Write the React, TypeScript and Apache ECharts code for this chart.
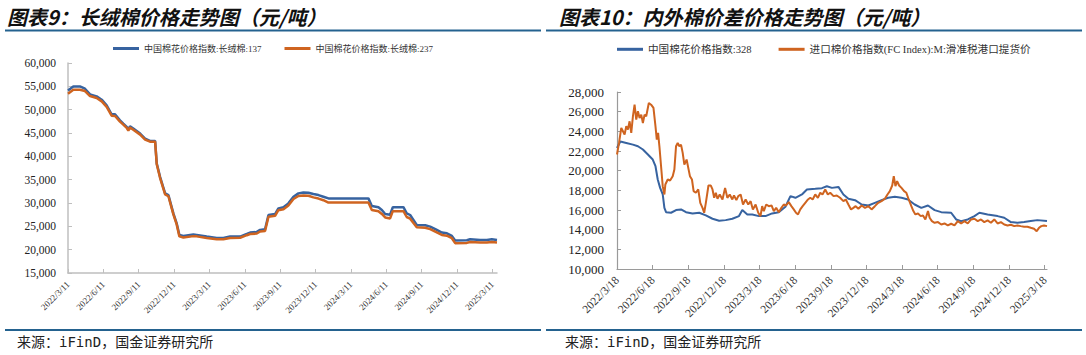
import React, { useEffect, useRef } from 'react';
import * as echarts from 'echarts';

// ---------- Left chart: 长绒棉价格 ----------
const leftTickLabels = [
  '2022/3/11', '2022/6/11', '2022/9/11', '2022/12/11', '2023/3/11', '2023/6/11', '2023/9/11',
  '2023/12/11', '2024/3/11', '2024/6/11', '2024/9/11', '2024/12/11', '2025/3/11',
];
// months since 2022/3/11
const leftMonths = [
  0, 0.45, 1.01, 1.44, 1.87, 2.43, 2.86, 3.28, 3.7, 3.99, 4.41, 4.69, 4.98, 5.12, 5.26, 5.54,
  6.12, 6.54, 6.96, 7.39, 7.53, 7.81, 8.24, 8.52, 8.94, 9.22, 9.45, 9.79, 10.64, 10.92, 11.77,
  12.62, 13.18, 13.75, 14.6, 15.17, 15.45, 16.02, 16.3, 16.72, 17.01, 17.57, 17.85, 18.28, 18.7,
  19.13, 19.55, 19.97, 20.4, 20.82, 21.25, 21.67, 22.1, 23.38, 24.79, 25.49, 25.78, 26.34, 26.63,
  26.91, 27.33, 27.56, 28.46, 28.74, 29.03, 29.31, 29.59, 30.31, 30.73, 31.29, 31.72, 32.15,
  32.57, 32.85, 33.84, 34.12, 34.97, 35.54, 35.96, 36.4,
];
const leftLong137 = [
  54130, 54980, 54980, 54490, 53280, 52850, 52140, 50930, 49000, 49000, 47720, 47010, 46300, 45730, 46440, 45940,
  44870, 43810, 43310, 43310, 38470, 35620, 32060, 31700, 27790, 25650, 23160, 22940, 23230, 23160, 22800,
  22520, 22520, 22800, 22800, 23370, 23660, 23800, 24230, 24370, 27430, 27640, 28850, 29070, 29920,
  31350, 32060, 32270, 32200, 31920, 31700, 31350, 30990, 30990, 30990, 30990, 29350, 29070, 28500,
  27650, 27500, 29100, 29100, 27800, 27430, 26360, 25290, 25220, 24940, 24230, 23660, 23510,
  22940, 21950, 22020, 22230, 22090, 22090, 22230, 22090,
];
const leftLong237 = [
  53420, 54270, 54270, 53990, 52920, 52500, 51780, 50600, 48720, 48650, 47450, 46800, 46100, 45500, 46200, 45700,
  44650, 43600, 43150, 43150, 38300, 35400, 31850, 31450, 27550, 25400, 22850, 22600, 22900, 22850, 22500,
  22250, 22250, 22500, 22550, 23100, 23350, 23450, 23900, 24000, 27050, 27250, 28450, 28650, 29450,
  30850, 31500, 31600, 31550, 31200, 30950, 30600, 30100, 30100, 30100, 30100, 28500, 28250, 27650,
  26900, 26700, 28250, 28250, 27000, 26650, 25700, 24800, 24700, 24400, 23700, 23150, 23000,
  22450, 21400, 21450, 21650, 21550, 21550, 21650, 21550,
];

// ---------- Right chart: 内外棉价差 ----------
const rightTickLabels = [
  '2022/3/18', '2022/6/18', '2022/9/18', '2022/12/18', '2023/3/18', '2023/6/18', '2023/9/18',
  '2023/12/18', '2024/3/18', '2024/6/18', '2024/9/18', '2024/12/18', '2025/3/18',
];
// months since 2022/3/18
const rightChinaMonths = [
  0, 0.28, 0.78, 1.34, 1.76, 2.18, 2.6, 3.01, 3.24, 3.43, 3.63, 3.85, 3.99, 4.13, 4.55, 4.97,
  5.39, 5.81, 6.36, 6.92, 7.48, 8.04, 8.6, 9.15, 9.71, 10.27, 10.55, 10.97, 11.39, 11.95, 12.5,
  13.06, 13.62, 14.18, 14.6, 15.02, 15.57, 15.99, 16.69, 17.25, 17.67, 18.09, 18.64, 19.06, 19.48,
  20.04, 20.6, 21.16, 21.71, 22.27, 22.83, 23.39, 23.95, 24.5, 25.06, 25.62, 26.18, 26.74, 27.3,
  28.13, 28.55, 28.97, 29.53, 30.09, 30.51, 31.2, 32.04, 32.6, 33.16, 33.71, 34.27, 34.83, 35.39, 36.2,
];
const rightChina328 = [
  22300, 22960, 22820, 22650, 22480, 22150, 21640, 21130, 20450, 19100, 18250, 17580, 16220, 15780, 15720, 15990,
  16060, 15780, 15650, 15720, 15450, 15110, 14900, 14970, 15110, 15380, 15990, 15550, 15550, 15380, 15380,
  15650, 15780, 16330, 17410, 17240, 17580, 18080, 18150, 18220, 18420, 18250, 18350, 17580, 17140,
  17000, 16560, 16460, 16730, 17000, 17240, 17340, 17240, 17070, 16560, 16220, 16460, 15990, 15780,
  15720, 15040, 14870, 15040, 15380, 15720, 15550, 15380, 15210, 14770, 14700, 14770, 14870, 14970, 14870,
];
const rightFCMonths = [
  0, 0.17, 0.36, 0.5, 0.64, 0.78, 0.92, 1.06, 1.2, 1.34, 1.48, 1.62, 1.76, 1.9, 2.04, 2.18, 2.32, 2.46,
  2.68, 2.87, 3.07, 3.24, 3.35, 3.46, 3.57, 3.71, 3.85, 3.99, 4.07, 4.27, 4.47, 4.69, 4.83, 4.97, 5.11,
  5.25, 5.39, 5.53, 5.67, 5.86, 6.03, 6.14, 6.31, 6.45, 6.64, 6.84, 7.01, 7.2, 7.34, 7.48, 7.7, 7.9,
  8.04, 8.18, 8.32, 8.46, 8.65, 8.88, 9.1, 9.29, 9.49, 9.71, 9.85, 10.05, 10.21, 10.41, 10.61, 10.83,
  11.05, 11.25, 11.44, 11.67, 11.89, 12.08, 12.22, 12.36, 12.56, 12.78, 13.01, 13.2, 13.4, 13.62,
  13.84, 14.04, 14.23, 14.46, 14.68, 14.88, 15.07, 15.24, 15.43, 15.63, 15.85, 16.08, 16.27, 16.47,
  16.69, 16.91, 17.11, 17.3, 17.53, 17.75, 17.95, 18.23, 18.5, 18.78, 19.06, 19.26, 19.48, 19.7, 19.9,
  20.09, 20.32, 20.6, 20.88, 21.16, 21.43, 21.71, 21.99, 22.27, 22.55, 22.77, 22.97, 23.17, 23.3,
  23.44, 23.58, 23.75, 23.95, 24.17, 24.36, 24.56, 24.78, 24.95, 25.12, 25.34, 25.57, 25.76, 25.96,
  26.18, 26.32, 26.51, 26.74, 27.02, 27.3, 27.57, 27.85, 28.13, 28.41, 28.69, 28.97, 29.25, 29.53,
  29.81, 30.09, 30.37, 30.64, 30.92, 31.2, 31.48, 31.76, 32.04, 32.32, 32.6, 32.88, 33.16, 33.44,
  33.71, 33.99, 34.27, 34.55, 34.83, 35.11, 35.33, 35.53, 35.72, 35.95, 36.2,
];
const rightFCIndex = [
  21640, 22820, 24350, 24010, 23670, 24510, 24180, 25020, 23840, 25530, 26710, 25190, 26040, 25360, 25700, 24850, 25700, 25530,
  26880, 26710, 26380, 24510, 23160, 23840, 22480, 20450, 18420, 17580, 18590, 19100, 19000, 19440, 20110, 22480, 22820,
  22480, 22650, 21810, 20620, 21130, 20110, 19440, 19100, 17920, 17750, 18090, 16730, 16220, 15720, 16730, 18490, 18490,
  18090, 17240, 17750, 17140, 17580, 17070, 18250, 17240, 17580, 17070, 17480, 17000, 17410, 17580, 16560, 17070,
  16560, 16900, 16060, 16560, 15720, 15380, 16390, 15890, 16560, 16390, 16460, 15890, 16220, 15780,
  16220, 16560, 16460, 16800, 16390, 16060, 15720, 15550, 16060, 16390, 16730, 17070, 17240, 17070,
  17580, 17240, 17750, 17580, 18090, 17580, 17750, 17410, 17480, 17240, 16900, 17070, 16560, 16060, 16220,
  16390, 16120, 16460, 16220, 16390, 16060, 16390, 16730, 16900, 17140, 17580, 17920, 18490, 19440,
  18420, 18930, 18490, 18250, 17920, 17750, 17070, 16390, 15890, 15550, 15650, 15380, 15450, 15040,
  15890, 15210, 14870, 14700, 14770, 14530, 14630, 14430, 14600, 14430, 14870, 14630, 14870, 14630,
  15040, 15110, 14870, 15040, 14770, 14940, 14700, 15040, 14630, 14770, 14530, 14430, 14500, 14360,
  14430, 14360, 14300, 14300, 14190, 14090, 13850, 14190, 14360, 14430, 14360,
];

const LEFT_NAME_1 = '中国棉花价格指数:长绒棉:137';
const LEFT_NAME_2 = '中国棉花价格指数:长绒棉:237';
const RIGHT_NAME_1 = '中国棉花价格指数:328';
const RIGHT_NAME_2 = '进口棉价格指数(FC Index):M:滑准税港口提货价';

const BLUE = '#3763a0';
const ORANGE = '#cf6420';
const RULE = '#24628f';
const SERIF = "'Liberation Serif', 'Times New Roman', serif";
const LEGEND_FONT = "'Liberation Serif', 'Noto Sans CJK SC', serif";

const tickFormatter = (labels: string[]) => (v: number) => {
  const i = Math.round(v / 3);
  return Math.abs(v - i * 3) < 1e-6 && i >= 0 && i < labels.length ? labels[i] : '';
};
const thousands = (v: number) => v.toLocaleString('en-US');

export default function App() {
  const ref = useRef<HTMLDivElement>(null);
  useEffect(() => {
    if (!ref.current) return;
    const chart = echarts.init(ref.current, undefined, { renderer: 'svg' });
    chart.setOption({
      animation: false,
      backgroundColor: '#ffffff',
      grid: [
        { left: 68, top: 63, width: 429, height: 210, containLabel: false },
        { left: 617, top: 92, width: 430, height: 177, containLabel: false },
      ],
      legend: [
        {
          data: [LEFT_NAME_1, LEFT_NAME_2],
          left: 108, top: 39, icon: 'rect', itemWidth: 26, itemHeight: 3, itemGap: 23,
          textStyle: { fontSize: 9, fontFamily: LEGEND_FONT, color: '#333' },
        },
        {
          data: [RIGHT_NAME_1, RIGHT_NAME_2],
          left: 612, top: 39, icon: 'rect', itemWidth: 26, itemHeight: 3, itemGap: 27,
          textStyle: { fontSize: 10.6, fontFamily: LEGEND_FONT, color: '#333' },
        },
      ],
      xAxis: [
        {
          type: 'value', gridIndex: 0, min: 0, max: 36.4, interval: 3,
          axisLine: { show: true, lineStyle: { color: '#bfbfbf', width: 1.5 } },
          axisTick: { show: true, inside: true, length: 4, lineStyle: { color: '#bfbfbf' } },
          splitLine: { show: false },
          axisLabel: {
            rotate: 45, fontSize: 9, fontFamily: SERIF, color: '#333', margin: 10,
            showMaxLabel: false, formatter: tickFormatter(leftTickLabels),
          },
        },
        {
          type: 'value', gridIndex: 1, min: 0, max: 36.2, interval: 3,
          axisLine: { show: true, lineStyle: { color: '#9a9a9a', width: 1.2 } },
          axisTick: { show: true, inside: true, length: 4, lineStyle: { color: '#9a9a9a' } },
          splitLine: { show: false },
          axisLabel: {
            rotate: 45, fontSize: 11.5, fontFamily: SERIF, color: '#333', margin: 9,
            showMaxLabel: false, formatter: tickFormatter(rightTickLabels),
          },
        },
      ],
      yAxis: [
        {
          type: 'value', gridIndex: 0, min: 15000, max: 60000, interval: 5000,
          axisLine: { show: true, lineStyle: { color: '#bfbfbf', width: 1.5 } },
          axisTick: { show: true, inside: true, length: 4, lineStyle: { color: '#bfbfbf' } },
          splitLine: { show: false },
          axisLabel: { fontSize: 11.5, fontFamily: SERIF, color: '#222', margin: 12, formatter: thousands },
        },
        {
          type: 'value', gridIndex: 1, min: 10000, max: 28000, interval: 2000,
          axisLine: { show: true, lineStyle: { color: '#9a9a9a', width: 1.2 } },
          axisTick: { show: true, inside: true, length: 4, lineStyle: { color: '#9a9a9a' } },
          splitLine: { show: false },
          axisLabel: { fontSize: 13, fontFamily: SERIF, color: '#222', margin: 13, formatter: thousands },
        },
      ],
      series: [
        {
          name: LEFT_NAME_1, type: 'line', xAxisIndex: 0, yAxisIndex: 0, symbol: 'none',
          data: leftMonths.map((m, i) => [m, leftLong137[i]]),
          lineStyle: { color: BLUE, width: 2.5 }, itemStyle: { color: BLUE },
        },
        {
          name: LEFT_NAME_2, type: 'line', xAxisIndex: 0, yAxisIndex: 0, symbol: 'none',
          data: leftMonths.map((m, i) => [m, leftLong237[i]]),
          lineStyle: { color: ORANGE, width: 2.5 }, itemStyle: { color: ORANGE },
        },
        {
          name: RIGHT_NAME_1, type: 'line', xAxisIndex: 1, yAxisIndex: 1, symbol: 'none',
          data: rightChinaMonths.map((m, i) => [m, rightChina328[i]]),
          lineStyle: { color: BLUE, width: 2 }, itemStyle: { color: BLUE },
        },
        {
          name: RIGHT_NAME_2, type: 'line', xAxisIndex: 1, yAxisIndex: 1, symbol: 'none',
          data: rightFCMonths.map((m, i) => [m, rightFCIndex[i]]),
          lineStyle: { color: ORANGE, width: 2 }, itemStyle: { color: ORANGE },
        },
      ],
      graphic: [
        {
          type: 'text', x: 7, y: 16,
          style: {
            text: '图表9：长绒棉价格走势图（元/吨）', fill: '#111', verticalAlign: 'middle',
            font: "italic bold 20px 'Noto Sans CJK SC', sans-serif",
          },
        },
        {
          type: 'text', x: 559, y: 16,
          style: {
            text: '图表10：内外棉价差价格走势图（元/吨）', fill: '#111', verticalAlign: 'middle',
            font: "italic bold 20px 'Noto Sans CJK SC', sans-serif",
          },
        },
        { type: 'line', shape: { x1: 5, y1: 30.5, x2: 541, y2: 30.5 }, style: { stroke: RULE, lineWidth: 2 } },
        { type: 'line', shape: { x1: 546, y1: 30.5, x2: 1082, y2: 30.5 }, style: { stroke: RULE, lineWidth: 2 } },
        { type: 'line', shape: { x1: 5, y1: 330, x2: 541, y2: 330 }, style: { stroke: RULE, lineWidth: 2 } },
        { type: 'line', shape: { x1: 546, y1: 330, x2: 1082, y2: 330 }, style: { stroke: RULE, lineWidth: 2 } },
        {
          type: 'text', x: 17, y: 342,
          style: {
            text: '来源：iFinD，国金证券研究所', fill: '#222', verticalAlign: 'middle',
            font: "14px 'DejaVu Sans Mono', 'Noto Sans CJK SC', monospace",
          },
        },
        {
          type: 'text', x: 565, y: 342,
          style: {
            text: '来源：iFinD，国金证券研究所', fill: '#222', verticalAlign: 'middle',
            font: "14px 'DejaVu Sans Mono', 'Noto Sans CJK SC', monospace",
          },
        },
      ],
    });
    return () => chart.dispose();
  }, []);
  return (
    <div
      ref={ref}
      style={{ position: 'fixed', left: 0, top: 0, width: 1086, height: 355, background: '#fff' }}
    />
  );
}
